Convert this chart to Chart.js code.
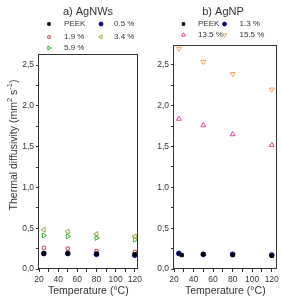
<!DOCTYPE html>
<html>
<head>
<meta charset="utf-8">
<script src="https://cdn.jsdelivr.net/npm/chart.js@4.4.1/dist/chart.umd.min.js"></script>
<style>
  html, body { margin: 0; padding: 0; background: #fff; width: 282px; height: 298px; overflow: hidden; }
  .panel { position: absolute; top: 0; height: 298px; }
  #panelA { left: 0; width: 145px; }
  #panelB { left: 141px; width: 141px; }
</style>
</head>
<body>
<div class="panel" id="panelA"><canvas id="chartA"></canvas></div>
<div class="panel" id="panelB"><canvas id="chartB"></canvas></div>
<script>
// --- DATA ---
const temps = [25, 50, 80, 120];
const tempsPeekB = [28, 50, 80, 120];
const xTickLabels = [20, 40, 60, 80, 100, 120];
const yTickLabels = [0, 0.5, 1.0, 1.5, 2.0, 2.5];

// a) AgNWs
const nwLabels = ['PEEK', '0.5 %', '1.9 %', '3.4 %', '5.9 %'];
const nwPeek = [0.19, 0.19, 0.19, 0.18];
const nw05 = [0.19, 0.19, 0.18, 0.17];
const nw19 = [0.26, 0.25, 0.22, 0.21];
const nw34 = [0.48, 0.46, 0.43, 0.40];
const nw59 = [0.41, 0.40, 0.38, 0.36];

// b) AgNP
const npLabels = ['PEEK', '1.3 %', '13.5 %', '15.5 %'];
const npPeek = [0.17, 0.18, 0.17, 0.16];
const np13 = [0.19, 0.18, 0.18, 0.17];
const np135 = [1.84, 1.76, 1.65, 1.52];
const np155 = [2.70, 2.54, 2.39, 2.20];

const FONT = "'Liberation Sans', Arial, sans-serif";
const TXT = '#333';

function pts(xs, ys) { return ys.map((y, i) => ({ x: xs[i], y })); }

function series(label, xs, ys, style, color, filled, rotation, radius) {
    return {
        label, data: pts(xs, ys),
        pointStyle: style, pointRotation: rotation || 0,
        pointRadius: radius, pointHoverRadius: radius,
        borderColor: color, backgroundColor: filled ? color : 'rgba(0,0,0,0)',
        pointBorderWidth: 1, showLine: false
    };
}

// --- DECORATION: frame, panel title, legend, y title ---
const panelDeco = {
    id: 'panelDeco',
    afterDraw(chart, args, o) {
        const ctx = chart.ctx, a = chart.chartArea;
        ctx.save();
        ctx.strokeStyle = TXT; ctx.lineWidth = 1;
        ctx.strokeRect(Math.round(a.left) - 0.5, Math.round(a.top) + 0.5,
            Math.round(a.right - a.left), Math.round(a.bottom - a.top) - 1);

        ctx.fillStyle = TXT;
        ctx.textAlign = 'center'; ctx.textBaseline = 'middle';
        ctx.font = `11px ${FONT}`;
        ctx.fillText(o.title, o.titleX, o.titleY);

        chart.data.datasets.forEach((ds, i) => {
            const col = i % 2, row = Math.floor(i / 2);
            const y = o.rowY[row];
            ctx.fillStyle = ds.backgroundColor; ctx.strokeStyle = ds.borderColor; ctx.lineWidth = 1;
            Chart.helpers.drawPoint(ctx, { pointStyle: ds.pointStyle, radius: ds.pointRadius * 0.8, rotation: ds.pointRotation, borderWidth: 1 }, o.markerX[col], y);
            ctx.fillStyle = TXT; ctx.textAlign = 'left';
            ctx.font = `8px ${FONT}`;
            ctx.fillText(ds.label, o.textX[col], y);
        });

        if (o.yTitle) {
            const parts = [['Thermal diffusivity (mm', 0], ['2', 1], [' s', 0], ['-1', 1], [')', 0]];
            ctx.translate(o.yTitleX, o.yTitleY);
            ctx.rotate(-Math.PI / 2);
            ctx.fillStyle = TXT; ctx.textAlign = 'left'; ctx.textBaseline = 'middle';
            const fontOf = sup => sup ? `7.5px ${FONT}` : `10.5px ${FONT}`;
            let w = 0;
            parts.forEach(([t, s]) => { ctx.font = fontOf(s); w += ctx.measureText(t).width; });
            let x = -w / 2;
            parts.forEach(([t, s]) => {
                ctx.font = fontOf(s);
                ctx.fillText(t, x, s ? -4 : 0);
                x += ctx.measureText(t).width;
            });
        }
        ctx.restore();
    }
};

function fmtY(v) {
    if (Math.abs(v * 2 - Math.round(v * 2)) > 1e-6) return '';
    return yTickLabels.includes(Math.round(v * 2) / 2) ? v.toFixed(1).replace('.', ',') : '';
}

function makeOptions(yMax, xMax, yWidth, pad, deco) {
    return {
        responsive: true, maintainAspectRatio: false, animation: false,
        layout: { padding: pad },
        scales: {
            x: {
                type: 'linear', min: 20, max: xMax,
                border: { display: false },
                grid: { drawOnChartArea: false, drawTicks: true, tickLength: 3, tickColor: TXT },
                ticks: {
                    stepSize: 10, includeBounds: false, autoSkip: false, maxRotation: 0,
                    padding: 3, color: TXT, font: { family: FONT, size: 8.5 },
                    callback: v => xTickLabels.includes(v) ? String(v) : ''
                },
                title: { display: true, text: 'Temperature (°C)', color: TXT, font: { family: FONT, size: 10.5 }, padding: { top: 0, bottom: 1 } },
                afterFit: s => { s.height = 29; }
            },
            y: {
                min: 0, max: yMax,
                border: { display: false },
                grid: { drawOnChartArea: false, drawTicks: true, tickLength: 3, tickColor: TXT },
                ticks: {
                    stepSize: 0.25, includeBounds: false, autoSkip: false,
                    padding: 2, color: TXT, font: { family: FONT, size: 8.5 },
                    callback: fmtY
                },
                afterFit: s => { s.width = yWidth; }
            }
        },
        plugins: { legend: { display: false }, tooltip: { enabled: false }, panelDeco: deco }
    };
}

new Chart(document.getElementById('chartA'), {
    type: 'scatter',
    data: {
        datasets: [
            series(nwLabels[0], temps, nwPeek, 'rect', '#000000', true, 0, 2.2),
            series(nwLabels[1], temps, nw05, 'circle', '#0a0a7a', true, 0, 2.4),
            series(nwLabels[2], temps, nw19, 'rect', '#c0504d', false, 0, 2.2),
            series(nwLabels[3], temps, nw34, 'triangle', '#9aa83a', false, -90, 2.8),
            series(nwLabels[4], temps, nw59, 'triangle', '#3aaa3a', false, 90, 2.8)
        ]
    },
    options: makeOptions(2.635, 123, 39, { top: 54, left: 0, right: 3, bottom: 0 }, {
        title: 'a) AgNWs', titleX: 88, titleY: 12,
        markerX: [49, 101], textX: [64, 114], rowY: [24, 37, 48],
        yTitle: true, yTitleX: 14, yTitleY: 145
    }),
    plugins: [panelDeco]
});

new Chart(document.getElementById('chartB'), {
    type: 'scatter',
    data: {
        datasets: [
            series(npLabels[0], tempsPeekB, npPeek, 'rect', '#000000', true, 0, 2.2),
            series(npLabels[1], temps, np13, 'circle', '#0a0a7a', true, 0, 2.4),
            series(npLabels[2], temps, np135, 'triangle', '#e0409a', false, 0, 2.8),
            series(npLabels[3], temps, np155, 'triangle', '#f0a050', false, 180, 2.8)
        ]
    },
    options: makeOptions(2.745, 125, 33, { top: 45, left: 0, right: 3, bottom: 0 }, {
        title: 'b) AgNP', titleX: 82, titleY: 12,
        markerX: [42.5, 83.5], textX: [57, 98.5], rowY: [24, 35],
        yTitle: false
    }),
    plugins: [panelDeco]
});
</script>
</body>
</html>
